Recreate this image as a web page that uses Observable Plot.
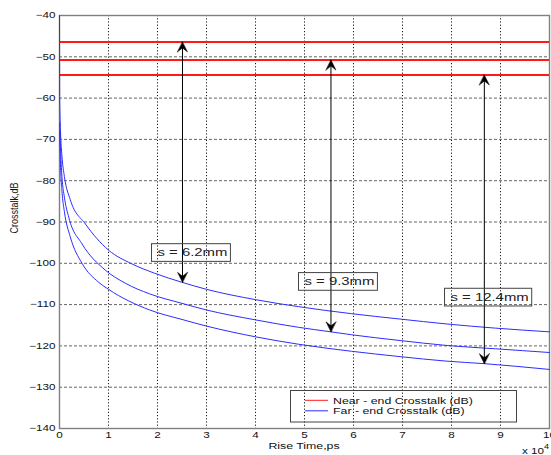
<!DOCTYPE html>
<html><head><meta charset="utf-8">
<script src="https://cdn.jsdelivr.net/npm/d3@7"></script>
<script src="https://cdn.jsdelivr.net/npm/@observablehq/plot@0.6"></script>
<style>
html,body{margin:0;padding:0;background:#fff;}
#chart{position:relative;width:551px;height:455px;overflow:hidden;}
</style></head><body><div id="chart"></div>
<script>
// ---- data (x in units of 10^4 ps, y in dB) ----
const xTicks = [0,1,2,3,4,5,6,7,8,9,10];
const yTicks = [-140,-130,-120,-110,-100,-90,-80,-70,-60,-50,-40];
const nearLevels = [-46.4, -50.8, -54.4];

const farA_x = [0, 0.004, 0.01, 0.02, 0.05, 0.1, 0.22, 0.53, 1.0, 1.47, 1.94, 2.5, 3.0, 4.0, 4.88, 5.96, 6.95, 7.91, 8.9, 10];
const farA_y = [-40, -60, -64, -68, -74, -79, -84.6, -90.5, -96.8, -100.1, -102.4, -104.6, -106.3, -108.8, -110.5, -112.2, -113.5, -114.7, -115.7, -116.6];
const farB_x = [0.004, 0.01, 0.02, 0.05, 0.1, 0.19, 0.46, 0.93, 1.34, 1.84, 2.5, 3.0, 4.0, 4.88, 5.54, 5.96, 6.95, 7.91, 8.9, 10];
const farB_y = [-66, -68.5, -72, -79, -84, -88.9, -95.3, -101.6, -104.8, -107.4, -109.7, -111.3, -113.7, -115.5, -116.6, -117.3, -118.7, -119.9, -120.7, -121.6];
const farC_x = [0.004, 0.01, 0.02, 0.05, 0.1, 0.22, 0.46, 0.8, 1.0, 1.84, 2.5, 3.0, 4.0, 4.88, 5.96, 6.95, 7.91, 8.67, 10];
const farC_y = [-68, -71, -76, -82.5, -87.5, -93.6, -100, -104.6, -106.3, -111.3, -113.6, -115.2, -117.8, -119.6, -121.3, -122.6, -123.7, -124.3, -125.7];

const arrowX = [2.51, 5.54, 8.67];
const arrowTop = nearLevels;
const arrowBottom = [-104.6, -116.6, -124.3];

const labelText = ["s = 6.2mm", "s = 9.3mm", "s = 12.4mm"];
const labelX = [2.0, 5.0, 7.98];
const labelY = [-97.5, -104.5, -108.3];

const legendLabels = ["Near - end Crosstalk (dB)", "Far - end Crosstalk (dB)"];
const legendColors = ["#ff1a1a", "#2d2dff"];
const xLabel = "Rise Time,ps";
const yLabel = "Crosstalk,dB";
const xMultiplier = ["x 10", "4"];

// ---- tables ----
const farRows = [
  ...farA_x.map((x, i) => ({s: "A", x, y: farA_y[i]})),
  ...farB_x.map((x, i) => ({s: "B", x, y: farB_y[i]})),
  ...farC_x.map((x, i) => ({s: "C", x, y: farC_y[i]}))
];
const arrows = arrowX.map((x, i) => ({x, y1: arrowTop[i], y2: arrowBottom[i]}));
const heads = arrowX.flatMap((x, i) => [{x, y: arrowTop[i], rot: 0}, {x, y: arrowBottom[i], rot: 180}]);
const labels = labelText.map((t, i) => ({t, x: labelX[i], y: labelY[i]}));

const arrowShape = {
  draw(context, l, r) {
    context.moveTo(0, -l);
    context.lineTo(r, 0);
    context.lineTo(0, -l * 0.4);
    context.lineTo(-r, 0);
    context.closePath();
  }
};

const FONT = "'Liberation Sans', Arial, Helvetica, sans-serif";

const plot = Plot.plot({
  width: 551, height: 455,
  marginLeft: 59, marginRight: 2, marginTop: 15, marginBottom: 27,
  x: {domain: [0, 10]},
  y: {domain: [-140, -40]},
  style: {fontFamily: FONT, fontSize: "9px", color: "#111", background: "white", overflow: "hidden"},
  marks: [
    Plot.gridX(xTicks.slice(1, -1), {stroke: "#000", strokeOpacity: 0.9, strokeDasharray: "1.2,2"}),
    Plot.gridY(yTicks.slice(1, -1), {stroke: "#555", strokeOpacity: 0.9, strokeDasharray: "3,2"}),
    Plot.frame({stroke: "#808080", strokeWidth: 1.4}),
    Plot.ruleY(nearLevels, {stroke: "#ff1a1a", strokeWidth: 2}),
    Plot.line(farRows, {x: "x", y: "y", z: "s", stroke: "#2d2dff", strokeWidth: 1, curve: "monotone-x"}),
    Plot.link(arrows, {x1: "x", x2: "x", y1: "y1", y2: "y2", stroke: "#000", strokeWidth: 1}),
    Plot.vector(heads, {x: "x", y: "y", rotate: "rot", length: 10, r: 5, anchor: "end", shape: arrowShape, fill: "#000", stroke: "#000", strokeWidth: 0.5}),
    Plot.text(labels, {x: "x", y: "y", text: "t", textAnchor: "start", lineAnchor: "middle", fontSize: 10.5, fill: "#222"}),
    Plot.axisX(xTicks, {tickSize: 0, tickPadding: 3, label: null, fontSize: 9}),
    Plot.axisY(yTicks, {tickSize: 0, tickPadding: 4, label: null, fontSize: 9})
  ]
});

document.getElementById("chart").appendChild(plot);
const svg = d3.select(plot);

// horizontal stretch of text glyphs (the reference's text is wide)
plot.querySelectorAll("text").forEach(t => {
  const tr = t.getAttribute("transform");
  const k = labelText.includes(t.textContent) ? 1.42 : 1.3;
  if (tr && tr.includes("translate")) t.setAttribute("transform", tr + ` scale(${k},1)`);
});

// boxes around the spacing labels
const svgRect = plot.getBoundingClientRect();
const ys = d3.scaleLinear([-140, -40], [428, 15]);
plot.querySelectorAll("text").forEach(t => {
  if (!labelText.includes(t.textContent)) return;
  const bb = t.getBoundingClientRect();
  const i = labelText.indexOf(t.textContent);
  const cy = ys(labelY[i]);
  svg.append("rect")
    .attr("x", bb.left - svgRect.left - 6)
    .attr("y", cy - 8.8)
    .attr("width", bb.width + 9)
    .attr("height", 17.7)
    .attr("fill", "none")
    .attr("stroke", "#444")
    .attr("stroke-width", 1);
});

// legend (transparent box inside the plot)
const lg = svg.append("g").attr("font-family", FONT).attr("font-size", 9.5).attr("fill", "#111")
  .attr("text-anchor", "start");
lg.append("rect").attr("x", 290.5).attr("y", 390.5).attr("width", 226).attr("height", 31.5)
  .attr("fill", "none").attr("stroke", "#444").attr("stroke-width", 1);
legendLabels.forEach((lab, i) => {
  const y = 400.3 + i * 10.5;
  lg.append("line").attr("x1", 305).attr("x2", 328).attr("y1", y).attr("y2", y)
    .attr("stroke", legendColors[i]).attr("stroke-width", 1);
  lg.append("text").attr("text-anchor", "start")
    .attr("transform", `translate(333,${y + 3.3}) scale(1.3,1)`).text(lab);
});

// axis titles
svg.append("text").attr("font-family", FONT).attr("font-size", 9.5).attr("fill", "#111")
  .attr("text-anchor", "middle")
  .attr("transform", "translate(304,449) scale(1.3,1)").text(xLabel);
svg.append("text").attr("font-family", FONT).attr("font-size", 9).attr("fill", "#111")
  .attr("text-anchor", "middle")
  .attr("transform", "translate(18,208) rotate(-90) scale(1,1.3)").text(yLabel);
const mult = svg.append("text").attr("font-family", FONT).attr("font-size", 9).attr("fill", "#111")
  .attr("text-anchor", "start")
  .attr("transform", "translate(522,454) scale(1.3,1)");
mult.append("tspan").text(xMultiplier[0]);
mult.append("tspan").attr("font-size", 7).attr("dy", -5).text(xMultiplier[1]);
</script>
</body></html>
